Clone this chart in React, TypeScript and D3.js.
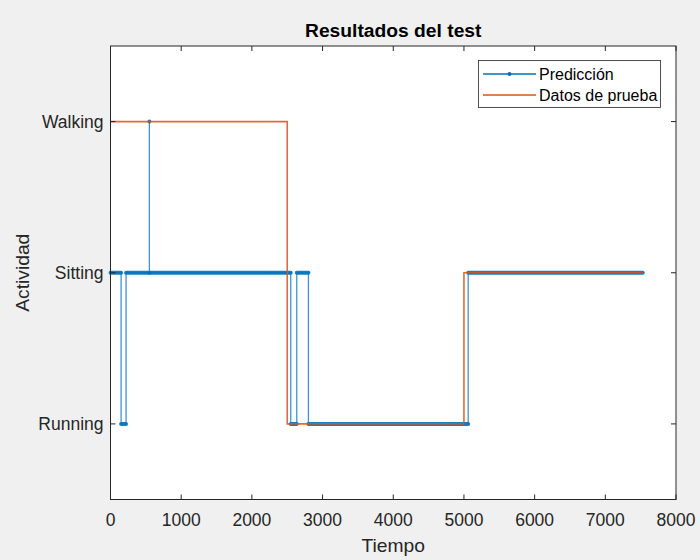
import React from "react";
import * as d3 from "d3";

// Activity categories (y axis), bottom to top
const categories = ["Running", "Sitting", "Walking"];
// x ticks
const xTicks = [0, 1000, 2000, 3000, 4000, 5000, 6000, 7000, 8000];

// Prediction: [start, end, activity]
const predStart = [0, 150, 220, 550, 550, 2550, 2635, 2800, 5060];
const predEnd = [150, 220, 550, 550, 2550, 2635, 2800, 5060, 7530];
const predClass = ["Sitting", "Running", "Sitting", "Walking", "Sitting", "Running", "Sitting", "Running", "Sitting"];

// Test data: [start, end, activity]
const testStart = [0, 2500, 5000];
const testEnd = [2500, 5000, 7530];
const testClass = ["Walking", "Running", "Sitting"];

const BLUE = "#0072BD";
const ORANGE = "#D95319";
const AX = "#262626";
const FONT = "'Liberation Sans', Arial, Helvetica, sans-serif";

export default function App() {
  const W = 700, H = 560;
  const L = 110.5, R = 676, T = 46, B = 499.5;
  const x = d3.scaleLinear().domain([0, 8000]).range([L, R]);
  const y = d3.scaleLinear().domain([0.5, 3.5]).range([B, T]);
  const cy = (c: string) => y(categories.indexOf(c) + 1);

  const predPts: [number, number][] = [];
  predStart.forEach((s, i) => {
    predPts.push([x(s), cy(predClass[i])]);
    predPts.push([x(predEnd[i]), cy(predClass[i])]);
  });
  const testPts: [number, number][] = [];
  testStart.forEach((s, i) => {
    testPts.push([x(s), cy(testClass[i])]);
    testPts.push([x(testEnd[i]), cy(testClass[i])]);
  });
  const line = d3.line();

  const tickLen = 5;
  const tickFs = 17.5;
  const labelFs = 19.25;

  return (
    <svg width={W} height={H} style={{ position: "absolute", left: 0, top: 0, fontFamily: FONT }}>
      <rect x={0} y={0} width={W} height={H} fill="#f0f0f0" />
      <rect x={L} y={T} width={R - L} height={B - T} fill="#ffffff" />

      {/* prediction markers (dense dots) */}
      {predStart.map((s, i) => {
        const e = predEnd[i];
        const yy = cy(predClass[i]);
        return (
          <line key={"m" + i} x1={x(s)} x2={x(e)} y1={yy} y2={yy} stroke={BLUE}
            strokeWidth={4} strokeLinecap="round" opacity={0.9} />
        );
      })}
      <path d={line(predPts) || ""} fill="none" stroke={BLUE} strokeWidth={1.3} opacity={0.75} />
      <path d={line(testPts) || ""} fill="none" stroke={ORANGE} strokeWidth={1.6} opacity={0.85} />

      {/* axes box */}
      <rect x={L} y={T} width={R - L} height={B - T} fill="none" stroke={AX} strokeWidth={1} />
      {xTicks.map((t) => (
        <g key={"xt" + t}>
          <line x1={x(t)} x2={x(t)} y1={B} y2={B - tickLen} stroke={AX} />
          <line x1={x(t)} x2={x(t)} y1={T} y2={T + tickLen} stroke={AX} />
          <text x={x(t)} y={525.5} textAnchor="middle" fontSize={tickFs} fill={AX}>{t}</text>
        </g>
      ))}
      {categories.map((c, i) => (
        <g key={"yt" + c}>
          <line x1={L} x2={L + tickLen} y1={y(i + 1)} y2={y(i + 1)} stroke={AX} />
          <line x1={R} x2={R - tickLen} y1={y(i + 1)} y2={y(i + 1)} stroke={AX} />
          <text x={103.5} y={y(i + 1) + 6} textAnchor="end" fontSize={tickFs} fill={AX}>{c}</text>
        </g>
      ))}

      <text x={(L + R) / 2} y={37} textAnchor="middle" fontSize={labelFs} fontWeight="bold" fill="#000">Resultados del test</text>
      <text x={(L + R) / 2} y={552} textAnchor="middle" fontSize={labelFs} fill={AX}>Tiempo</text>
      <text transform={`translate(28.5, ${(T + B) / 2}) rotate(-90)`} textAnchor="middle" fontSize={labelFs} fill={AX}>Actividad</text>

      {/* legend */}
      <g>
        <rect x={478.5} y={60.5} width={182} height={47} fill="#fff" stroke={AX} strokeWidth={0.8} />
        <line x1={483} x2={536} y1={74} y2={74} stroke={BLUE} strokeWidth={1.3} />
        <circle cx={509.5} cy={74} r={2} fill={BLUE} />
        <text x={539} y={79.5} fontSize={16} fill="#000">Predicción</text>
        <line x1={483} x2={536} y1={95} y2={95} stroke={ORANGE} strokeWidth={1.3} />
        <text x={539} y={100.5} fontSize={16} fill="#000">Datos de prueba</text>
      </g>
    </svg>
  );
}
